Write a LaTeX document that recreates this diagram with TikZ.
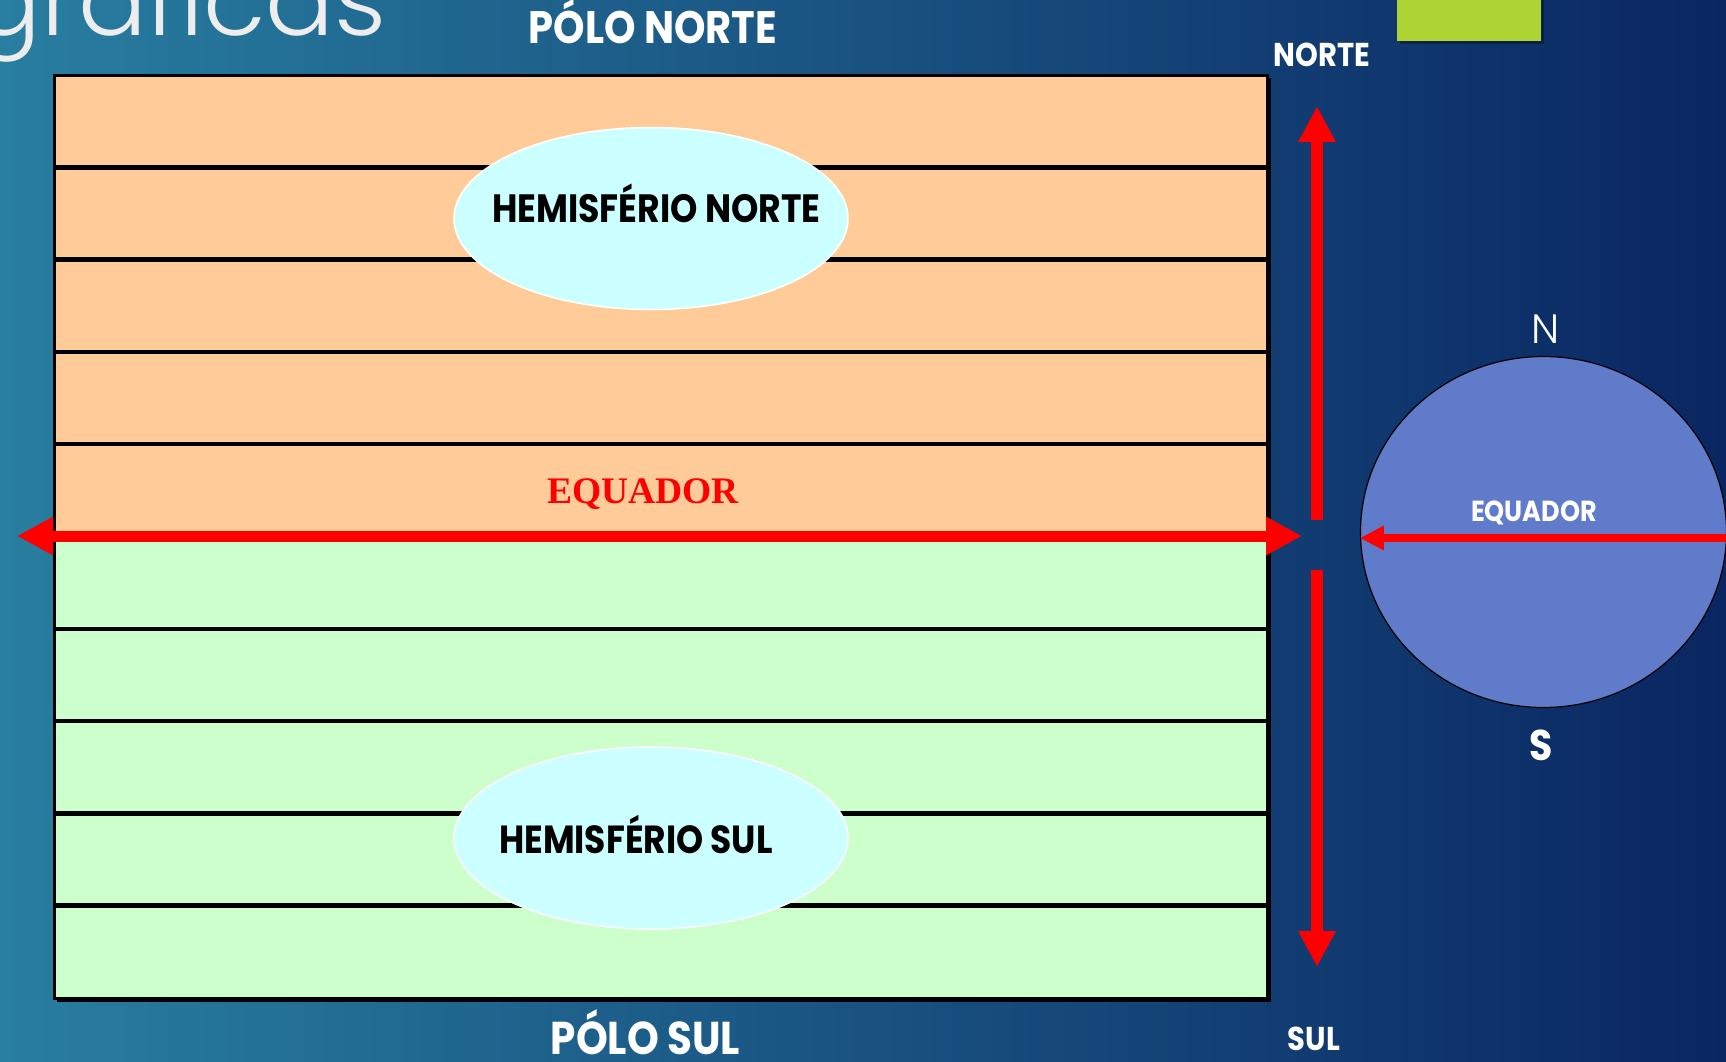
\documentclass[tikz,border=0pt]{standalone}
\usepackage{fontspec}
\setmainfont{Poppins}
\newfontfamily\lblfont[FakeStretch=0.88]{Poppins}
\newfontfamily\thinfont{Poppins Light}
\newfontfamily\titlefont[FakeStretch=1.02]{Poppins Light}
\newfontfamily\eqfont{Liberation Serif}
\usetikzlibrary{shapes.geometric,arrows.meta,positioning,calc}

\definecolor{bgleft}{RGB}{40,126,160}
\definecolor{bgright}{RGB}{10,38,98}
\definecolor{northfill}{RGB}{255,204,153}
\definecolor{southfill}{RGB}{204,255,204}
\definecolor{hemifill}{RGB}{204,255,255}
\definecolor{globefill}{RGB}{96,123,202}
\definecolor{barfill}{RGB}{174,212,52}

\newcommand\lblsz[1]{\lblfont\bfseries\fontsize{#1}{#1}\selectfont}

\tikzset{
  lbltxt/.style={text=white, inner sep=0pt, anchor=base},
  hemi/.style={ellipse, draw=white, line width=1.5pt, fill=hemifill,
    minimum width=394pt, minimum height=182pt, inner sep=0pt},
  eqarrow/.style={red, line width=11pt,
    {Triangle[length=36pt,width=36pt]}-{Triangle[length=36pt,width=36pt]}},
  axarrow/.style={red, line width=12pt, -{Triangle[length=36pt,width=35pt]}},
}

\begin{document}
\begin{tikzpicture}[x=1pt, y=-1pt]
    % Background
    \shade[left color=bgleft, right color=bgright] (0,0) rectangle (1726,1061);
    \useasboundingbox (0,0) rectangle (1726,1061);

    % Title fragment and green bar
    \node[anchor=base east, inner sep=0pt, text=white!93!black,
      font=\titlefont\fontsize{100}{100}\selectfont] (title) at (387,35) {ográficas};
    \fill[black, opacity=0.3] (1400,0) rectangle (1544,44);
    \fill[barfill] (1397,0) rectangle (1541,41);

    % Map with parallels
    \fill[black] (57,78) rectangle (1271,1002);
    \fill[northfill] (54,75) rectangle (1267,536);
    \fill[southfill] (54,536) rectangle (1267,998);
    \foreach \k in {1,...,9} {
        \draw[line width=4.5pt] (54,75+92.3*\k) -- (1267,75+92.3*\k);
    }
    \draw[line width=3pt] (54,75) rectangle (1267,998);

    % Hemispheres
    \node[hemi] (hnorte) at (651,218.5) {};
    \node[lbltxt, text=black, font=\lblsz{39.5}] (hnortetxt) at (656.5,222) {HEMISFÉRIO NORTE};
    \node[hemi] (hsul) at (651,838) {};
    \node[lbltxt, text=black, font=\lblsz{39.2}] (hsultxt) at (636,853) {HEMISFÉRIO SUL};

    % Equator
    \node[lbltxt, text=red, font=\eqfont\bfseries\fontsize{37.5}{37.5}\selectfont] (eqtxt) at (643,503) {EQUADOR};
    \coordinate (eqw) at (17,536);
    \coordinate (eqe) at (1302,536);
    \draw[eqarrow] (eqw) -- (eqe);

    % Poles
    \node[lbltxt, font=\lblsz{45.5}] (pnorte) at (653,43) {PÓLO NORTE};
    \node[lbltxt, font=\lblsz{46}] (psul) at (645.5,1054) {PÓLO SUL};

    % North-south axis
    \node[lbltxt, font=\lblsz{33}] (norte) at (1322,66) {NORTE};
    \node[lbltxt, font=\lblsz{33}] (sul) at (1314,1050) {SUL};
    \coordinate (axn) at (1317,106);
    \coordinate (axnmid) at (1317,520);
    \coordinate (axsmid) at (1317,570);
    \coordinate (axs) at (1317,967);
    \draw[axarrow] (axnmid) -- (axn);
    \draw[axarrow] (axsmid) -- (axs);

    % Globe
    \node[ellipse, draw=black, line width=1.2pt, fill=globefill, inner sep=0pt,
      minimum width=366pt, minimum height=351pt] (globe) at (1543.5,532) {};
    \node[lbltxt, font=\thinfont\fontsize{41}{41}\selectfont] (gn) at (1546,343) {N};
    \node[lbltxt, font=\lblsz{43}] (gs) at (1541,760) {S};
    \node[lbltxt, font=\lblsz{29}] (geqtxt) at (1534,521) {EQUADOR};
    \coordinate (geq) at (1726,538);
    \draw[red, line width=8pt, -{Triangle[length=24pt,width=23pt]}] (geq) -- (globe.west |- geq);
\end{tikzpicture}
\end{document}
